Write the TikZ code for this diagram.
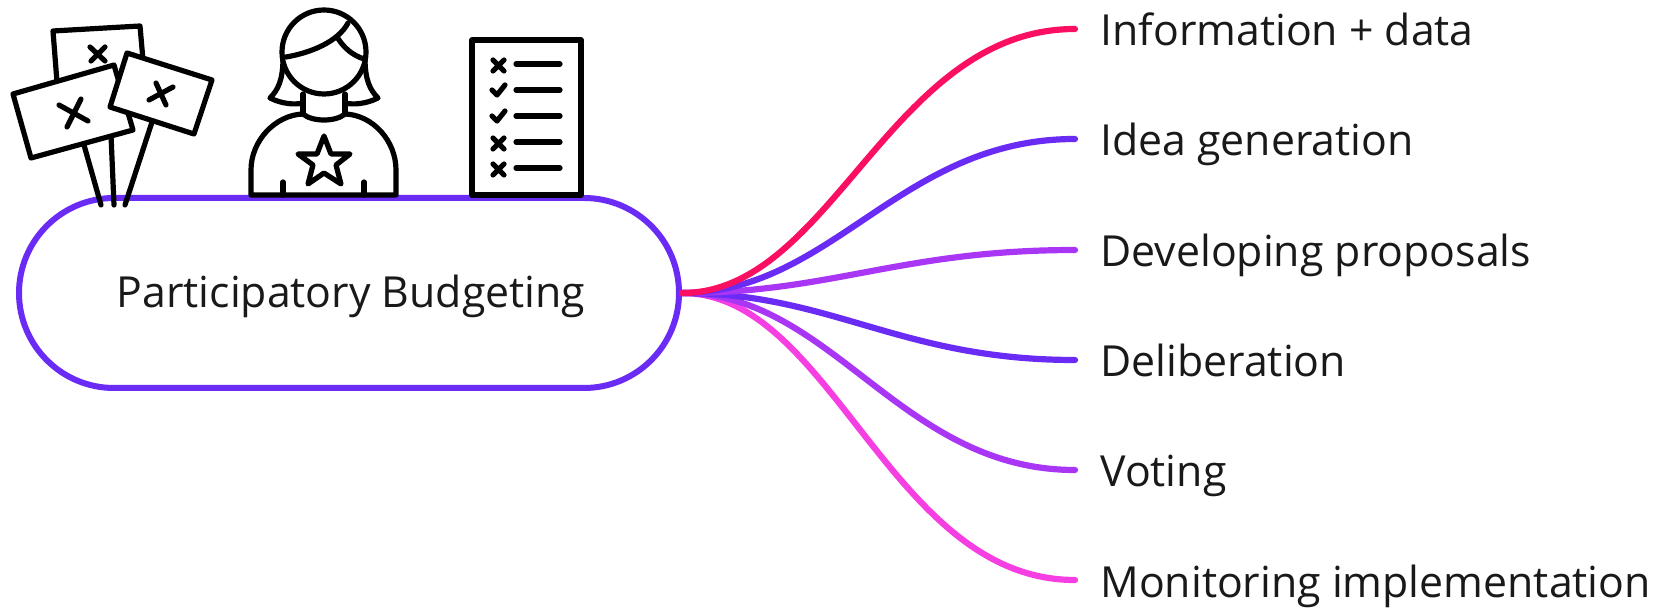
\documentclass[tikz,border=0pt]{standalone}
\usepackage{fontspec}
\setmainfont{Open Sans}
\usetikzlibrary{shapes.misc}
\definecolor{cred}{HTML}{FB0F62}
\definecolor{cblue}{HTML}{6A2BF5}
\definecolor{cviolet}{HTML}{A935F5}
\definecolor{cpink}{HTML}{F53FE2}
\tikzset{
  rootbox/.style={rounded rectangle,draw=cblue,line width=3pt,minimum width=330pt,minimum height=95pt,inner sep=0pt,font=\fontsize{21.4}{24}\selectfont,text=black!90,text height=18pt,text depth=3pt},
  leaf/.style={anchor=west,inner xsep=12.5pt,inner ysep=0pt,font=\fontsize{21.4}{24}\selectfont,text=black!90,text height=19.5pt,text depth=2.5pt},
  branch/.style={line width=3.1pt,line cap=round},
  icon/.style={draw=black,line width=2.6pt,line cap=round,line join=round},
  iconfill/.style={icon,fill=white}
}
\begin{document}
\begin{tikzpicture}[x=0.5pt,y=-0.5pt]
\useasboundingbox (0,0) rectangle (1663,608);
\node[rootbox] (root) at (349,293) {\hspace*{2pt}Participatory Budgeting};
\coordinate (hub) at (root.east);
\node[leaf] (a) at (1075,29) {Information + data};
\node[leaf] (b) at (1075,139) {Idea generation};
\node[leaf] (c) at (1075,250) {Developing proposals};
\node[leaf] (d) at (1075,360) {Deliberation};
\node[leaf] (e) at (1075,470) {Voting};
\node[leaf] (f) at (1075,580) {Monitoring implementation};
\draw[branch,cpink] (hub) .. controls +(150,0) and (890,580) .. (f.west);
\draw[branch,cviolet] (hub) .. controls +(150,0) and (900,470) .. (e.west);
\draw[branch,cblue] (hub) .. controls +(150,0) and (900,360) .. (d.west);
\draw[branch,cviolet] (hub) .. controls +(150,0) and (900,250) .. (c.west);
\draw[branch,cblue] (hub) .. controls +(150,0) and (900,139) .. (b.west);
\draw[branch,cred] (hub) .. controls +(150,0) and (890,29) .. (a.west);
% signs
\draw[icon] (101,205)--(84,145);
\draw[icon] (114,205)--(111,135);
\draw[icon] (125,205)--(152,122);
\draw[iconfill] (53,31)--(140,26)--(143,60)--(100,90)--(57,82)--cycle;
\draw[icon] (90,47)--(105,61) (105,47)--(91,61);
\draw[iconfill] (13,94)--(114,65)--(133,130)--(31,158)--cycle;
\draw[icon] (59,105)--(88,121) (67,127)--(81,99);
\draw[iconfill] (127,53)--(212,80)--(194,134)--(110,107)--cycle;
\draw[icon] (149,100)--(173,87) (156,83)--(166,105);
% person
\draw[icon] (283,58) .. controls (283,80) and (278,90) .. (270,98) .. controls (282,104) and (295,105) .. (303,103);
\draw[icon] (365,58) .. controls (365,80) and (370,90) .. (378,98) .. controls (366,104) and (353,105) .. (345,103);
\draw[iconfill] (324,52) circle (42);
\draw[icon] (286,57) .. controls (310,53) and (338,42) .. (348,23);
\draw[icon] (337,37) .. controls (344,48) and (352,55) .. (364,59);
\draw[iconfill] (251,195) -- (251,170) .. controls (251,141) and (275,115) .. (303,114) .. controls (312,122) and (336,122) .. (345,114) .. controls (373,115) and (396,141) .. (396,170) -- (396,195) -- cycle;
\draw[icon] (303,114) -- (303,94) (345,114) -- (345,94);
\draw[icon] (283,182)--(283,195) (364,182)--(364,195);
\draw[icon] (324,136)--(331,154)--(350,154)--(336,165)--(341,184)--(324,173)--(308,184)--(313,165)--(298,154)--(317,154)--cycle;
% checklist
\draw[iconfill] (472,40) rectangle (581,195);
\draw[icon] (493,60)--(504,71) (504,60)--(493,71);
\draw[icon] (493,138)--(504,149) (504,138)--(493,149);
\draw[icon] (493,164)--(504,175) (504,164)--(493,175);
\draw[icon] (492,90)--(497,95)--(505,85);
\draw[icon] (492,116)--(497,121)--(505,111);
\draw[icon] (516,64)--(560,64) (516,90)--(560,90) (516,116)--(560,116) (516,142)--(560,142) (516,168)--(560,168);
\end{tikzpicture}
\end{document}
